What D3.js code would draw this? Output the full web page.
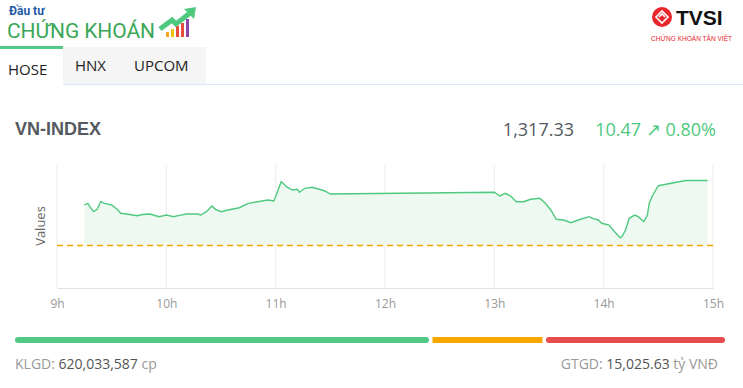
<!DOCTYPE html>
<html>
<head>
<meta charset="utf-8">
<script src="https://cdn.jsdelivr.net/npm/d3@7"></script>
<style>
  body { margin: 0; background: #fff; }
  svg text { font-family: "Open Sans", sans-serif; }
</style>
</head>
<body>
<div id="chart"></div>
<script>
// intraday VN-INDEX
var times = ["09:15","09:17","09:18","09:20","09:22","09:24","09:26","09:30","09:33","09:35","09:39","09:44","09:47","09:51","09:56",
  "10:00","10:04","10:07","10:11","10:17","10:19","10:22","10:25","10:27","10:30","10:34","10:40","10:45","10:50","10:56","10:59",
  "11:01","11:03","11:04","11:06","11:09","11:12","11:13","11:16","11:20","11:24","11:27","11:30",
  "13:00","13:03","13:06","13:09","13:12","13:16","13:20","13:25","13:28","13:31","13:34","13:38","13:42","13:46","13:52","13:54","13:57","13:59",
  "14:03","14:06","14:09","14:10","14:12","14:14","14:17","14:19","14:22","14:24","14:25","14:27","14:30","14:45","14:57"];
var values = [1313.39,1313.66,1313.11,1312.31,1312.69,1313.92,1313.66,1313.39,1312.69,1312.05,1311.89,1311.66,1311.85,1311.94,1311.50,
  1311.77,1311.50,1311.72,1311.94,1311.94,1311.77,1312.31,1313.23,1312.69,1312.31,1312.58,1312.95,1313.66,1313.92,1314.19,1314.03,
  1315.53,1317.15,1316.89,1316.34,1315.81,1315.92,1315.44,1316.08,1316.24,1315.92,1315.65,1315.16,
  1315.45,1314.84,1315.27,1314.84,1313.92,1313.92,1314.31,1314.47,1313.66,1312.58,1311.08,1310.97,1310.53,1310.97,1311.50,1311.24,1310.97,1310.44,
  1310.16,1309.08,1308.11,1308.27,1309.35,1311.24,1311.77,1311.50,1310.69,1311.77,1313.66,1315.00,1316.50,1317.33,1317.33];
var refValue = 1306.86;
var hourTicks = [9, 10, 11, 12, 13, 14, 15];
var tabs = ["HOSE", "HNX", "UPCOM"];
var breadth = [414, 110, 179];   // advancing / unchanged / declining (bar lengths)
var breadthColors = ["#52c985", "#f7a800", "#e84c4c"];

var width = 743, height = 388;
var svg = d3.select("#chart").append("svg")
    .attr("width", width)
    .attr("height", height);

var data = times.map(function(t, i) {
    var p = t.split(":");
    return {t: +p[0] + p[1] / 60, v: values[i]};
});

// ---- header logos
var logo = svg.append("g");
logo.append("text").attr("x", 9).attr("y", 15)
    .style("font-family", "Roboto, sans-serif").style("font-weight", "bold")
    .style("font-size", "12px").style("fill", "#1f5aa6").text("Đầu tư");
logo.append("text").attr("x", 7).attr("y", 38)
    .style("font-family", "Roboto, sans-serif").style("font-size", "21px")
    .attr("textLength", 148)
    .style("fill", "#3aa757").text("CHỨNG KHOÁN");
[["#f5a623", 166, 5], ["#f1c40f", 171, 8], ["#e74c3c", 176, 11], ["#e74c3c", 181, 14], ["#8e44ad", 186, 18]].forEach(function(b) {
    logo.append("rect").attr("x", b[1]).attr("y", 37 - b[2]).attr("width", 3).attr("height", b[2]).style("fill", b[0]);
});
logo.append("path").attr("d", "M160,29 L172,20 L176,24 L190,13")
    .style("fill", "none").style("stroke", "#4fc97f").style("stroke-width", 5);
logo.append("path").attr("d", "M184,9 L196,7 L194,19 Z").style("fill", "#4fc97f");

var tv = svg.append("g");
tv.append("circle").attr("cx", 662).attr("cy", 17).attr("r", 10).style("fill", "#e8262b");
tv.append("path").attr("d", "M656,17 L662,11 L668,17 L662,23 Z M659,17 L662,14 L665,17")
    .style("fill", "none").style("stroke", "#fff").style("stroke-width", 1.6);
tv.append("text").attr("x", 676).attr("y", 25)
    .style("font-family", "'Liberation Sans', Arial, sans-serif").style("font-weight", "bold")
    .style("font-size", "21px").style("fill", "#111").text("TVSI");
tv.append("text").attr("x", 651).attr("y", 41)
    .attr("textLength", 81)
    .style("font-family", "'Liberation Sans', Arial, sans-serif")
    .style("font-size", "6.5px").style("fill", "#e8262b").text("CHỨNG KHOÁN TÂN VIỆT");

// ---- tabs
svg.append("rect").attr("x", 63).attr("y", 47).attr("width", 143).attr("height", 37).style("fill", "#f5f5f5");
svg.append("rect").attr("x", 0).attr("y", 46).attr("width", 63).attr("height", 3).style("fill", "#52c985");
svg.append("line").attr("x1", 63).attr("x2", 743).attr("y1", 84.5).attr("y2", 84.5)
    .style("stroke", "#dce8f5");
var tabX = [8, 75, 134], tabY = [75, 71, 71];
tabs.forEach(function(t, i) {
    svg.append("text").attr("x", tabX[i]).attr("y", tabY[i])
        .style("font-size", "15px").style("fill", "#222").text(t);
});

// ---- title row
svg.append("text").attr("x", 15).attr("y", 135)
    .style("font-family", "'Liberation Sans', Arial, sans-serif").style("font-weight", "bold")
    .style("font-size", "18px").style("fill", "#555a60").text("VN-INDEX");
var last = values[values.length - 1], chg = last - refValue;
svg.append("text").attr("x", 574).attr("y", 136).attr("text-anchor", "end")
    .style("font-size", "18px").style("fill", "#555a60").text(d3.format(",.2f")(last));
svg.append("text").attr("x", 716).attr("y", 136).attr("text-anchor", "end")
    .style("font-size", "18px").style("fill", "#4fc97f")
    .text(d3.format(".2f")(chg) + " \u2197 " + d3.format(".2f")(chg / refValue * 100) + "%");

// ---- chart
var x = d3.scaleLinear().domain([9, 15]).range([57, 713]);
var y = d3.scaleLinear().domain([1300, 1320]).range([288, 164]);

var grid = svg.append("g");
grid.selectAll("line").data(hourTicks).enter().append("line")
    .attr("x1", function(d) { return x(d); }).attr("x2", function(d) { return x(d); })
    .attr("y1", y(1320)).attr("y2", y(1300))
    .style("stroke", "#ececec").style("stroke-width", 1);

var xAxis = svg.append("g").attr("transform", "translate(0," + y(1300) + ")")
    .call(d3.axisBottom(x).tickValues(hourTicks).tickSize(0).tickPadding(11)
        .tickFormat(function(d) { return d + "h"; }));
xAxis.select(".domain").style("stroke", "#e2e2e2");
xAxis.selectAll("text").style("font-family", "'Open Sans', sans-serif")
    .style("font-size", "12px").style("fill", "#999");

var area = d3.area()
    .x(function(d) { return x(d.t); })
    .y0(y(refValue))
    .y1(function(d) { return y(d.v); });
svg.append("path").datum(data).attr("d", area).style("fill", "#eef9f2");

svg.append("line").attr("x1", x(9)).attr("x2", x(15))
    .attr("y1", y(refValue)).attr("y2", y(refValue))
    .style("stroke", "#f7a600").style("stroke-width", 1.6).style("stroke-dasharray", "6,4");

var line = d3.line()
    .x(function(d) { return x(d.t); })
    .y(function(d) { return y(d.v); });
svg.append("path").datum(data).attr("d", line)
    .style("fill", "none").style("stroke", "#4fc97f").style("stroke-width", 1.4);

svg.append("text").attr("transform", "translate(45,226) rotate(-90)")
    .attr("text-anchor", "middle")
    .style("font-size", "13px").style("fill", "#666").text("Values");

// ---- breadth bar
var total = d3.sum(breadth), gap = 3.5;
var bx = d3.scaleLinear().domain([0, total]).range([15, 725 - gap * (breadth.length - 1)]);
var acc = 0;
breadth.forEach(function(b, i) {
    svg.append("rect").attr("x", bx(acc) + i * gap).attr("y", 337)
        .attr("width", bx(acc + b) - bx(acc)).attr("height", 6)
        .attr("rx", (i == 0 || i == breadth.length - 1) ? 3 : 0)
        .style("fill", breadthColors[i]);
    acc += b;
});

// ---- footer
var foot = svg.append("text").attr("x", 15).attr("y", 369).style("font-size", "14px");
foot.append("tspan").style("fill", "#999").text("KLGD:  ");
foot.append("tspan").style("fill", "#555").text("620,033,587");
foot.append("tspan").style("fill", "#999").text(" cp");
var foot2 = svg.append("text").attr("x", 718).attr("y", 369).attr("text-anchor", "end").style("font-size", "14px");
foot2.append("tspan").style("fill", "#999").text("GTGD:  ");
foot2.append("tspan").style("fill", "#555").text("15,025.63");
foot2.append("tspan").style("fill", "#999").text(" tỷ VNĐ");
</script>
</body>
</html>
